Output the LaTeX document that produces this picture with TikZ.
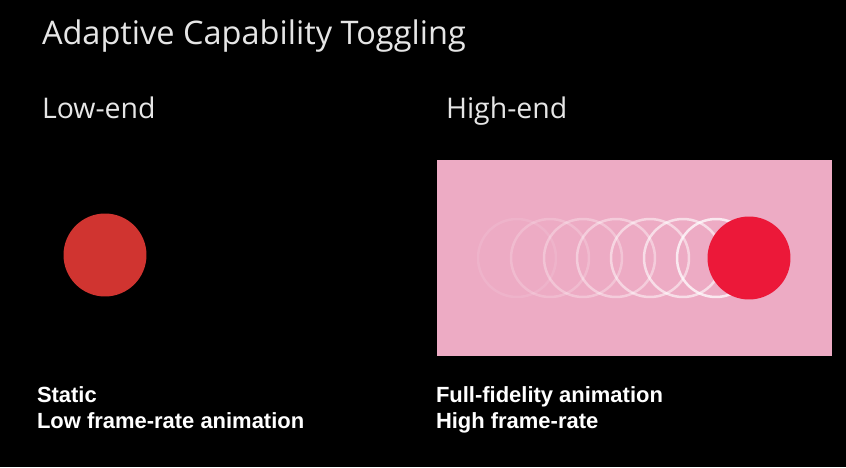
\documentclass[tikz,border=0pt]{standalone}
\usepackage{fontspec}
\usepackage{xcolor}
\setmainfont{Open Sans}[Ligatures=NoCommon]
\newfontfamily\notefont{Liberation Sans}
\usetikzlibrary{positioning}
\definecolor{slidegray}{HTML}{E6E6E6}
\definecolor{lowred}{HTML}{D03430}
\definecolor{highred}{HTML}{EC1839}
\definecolor{stagepink}{HTML}{EDABC4}
\tikzset{
  basenode/.style = {inner sep=0pt, outer sep=0pt},
  title_node/.style = {basenode, anchor=base west, text=slidegray, font=\fontsize{18.5}{22}\selectfont},
  head_node/.style = {basenode, anchor=base west, text=slidegray, font=\fontsize{16.2}{19}\selectfont},
  note_node/.style = {basenode, anchor=base west, text=white, font=\notefont\bfseries\fontsize{12.5}{15}\selectfont},
  ball_node/.style = {basenode, circle, minimum size=1.66cm},
  ring_node/.style = {basenode, circle, draw=white, line width=0.05cm, minimum size=1.56cm},
}

\begin{document}
\begin{tikzpicture}[x=0.02cm, y=-0.02cm]
    \fill[black] (0,0) rectangle (846,467);
    \useasboundingbox (0,0) rectangle (846,467);

    \node [title_node] (title) at (42,44) {Adaptive Capability Toggling};
    \node [head_node] (low) at (42,118) {Low-end};
    \node [head_node] (high) at (446,118) {High-end};

    % low-end: one static ball
    \node [ball_node, fill=lowred] (lowball) at (105,255) {};

    % high-end: stage with trail of rings
    \fill [stagepink] (437,160) rectangle (832,356);
    \node [ring_node, draw opacity=0.10] (ring1) at (517,258) {};
    \node [ring_node, draw opacity=0.20] (ring2) at (550,258) {};
    \node [ring_node, draw opacity=0.30] (ring3) at (583,258) {};
    \node [ring_node, draw opacity=0.40] (ring4) at (616,258) {};
    \node [ring_node, draw opacity=0.50] (ring5) at (650,258) {};
    \node [ring_node, draw opacity=0.60] (ring6) at (683,258) {};
    \node [ring_node, draw opacity=0.75] (ring7) at (716,258) {};
    \node [ball_node, fill=highred] (highball) at (749,258) {};

    \node [note_node] (static) at (37,402) {Static};
    \node [note_node] (lowrate) at (37,428) {Low frame-rate animation};
    \node [note_node] (fidelity) at (436,402) {Full-fidelity animation};
    \node [note_node] (highrate) at (436,428) {High frame-rate};
\end{tikzpicture}
\end{document}
